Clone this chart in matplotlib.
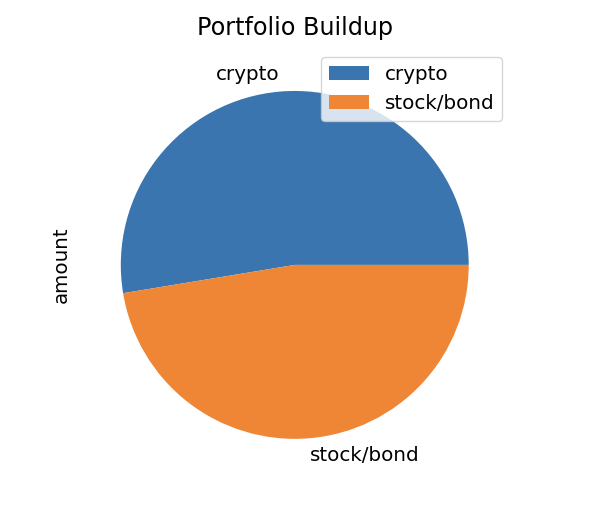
import matplotlib
matplotlib.use("Agg")
import matplotlib.pyplot as plt

categories = ["crypto", "stock/bond"]
amounts = [52.6, 47.4]
colors = ["#3A75AF", "#EF8636"]

plt.rcParams["font.size"] = 14.3

fig = plt.figure(figsize=(6.04, 5.12), dpi=100)
ax = fig.add_axes([0.128, 0.0576, 0.720, 0.85])
wedges, texts = ax.pie(amounts, labels=categories, colors=colors)
ax.set_aspect("equal")
ax.set_title("Portfolio Buildup", fontsize=17.2, pad=9)
ax.set_ylabel("amount", labelpad=5)
ax.legend(wedges, categories, loc="upper right")
fig.savefig("out.png", dpi=100)
